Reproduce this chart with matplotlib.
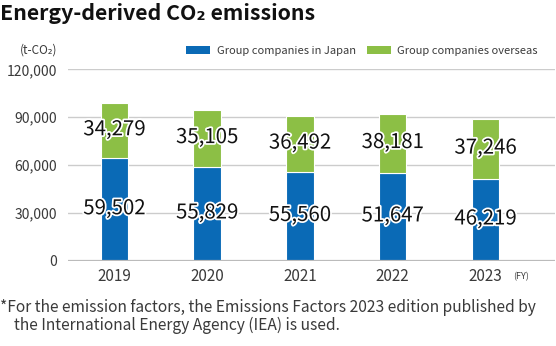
import matplotlib
matplotlib.use("Agg")
import matplotlib.pyplot as plt
import matplotlib.patheffects as pe
from matplotlib.patches import Patch

plt.rcParams['font.family'] = ['Noto Sans CJK JP', 'DejaVu Sans']

years = ['2019', '2020', '2021', '2022', '2023']
# bar heights as drawn in the reference (t-CO2)
japan_bar = [64200, 58900, 55800, 55200, 51400]
overseas_bar = [34700, 35500, 34800, 36700, 37300]
# printed values
japan_label = [59502, 55829, 55560, 51647, 46219]
overseas_label = [34279, 35105, 36492, 38181, 37246]
yticks = [0, 30000, 60000, 90000, 120000]

blue = '#0A6AB6'
green = '#8CBF45'
txt_gray = '#3a3a3a'

W, H = 556, 346
fig = plt.figure(figsize=(W / 100, H / 100), dpi=100)
ax = fig.add_axes([68 / W, 1 - 261 / H, (555 - 68) / W, (261 - 69.3) / H])

x = list(range(len(years)))
ax.bar(x, japan_bar, width=0.297, color=blue, edgecolor='white', linewidth=0.8, zorder=3)
ax.bar(x, overseas_bar, width=0.297, bottom=japan_bar, color=green, edgecolor='white', linewidth=0.8, zorder=3)

stroke = [pe.withStroke(linewidth=2.5, foreground='white')]
for i in x:
    ax.text(i, japan_bar[i] / 2 + 600, f"{japan_label[i]:,}", ha='center', va='center',
            fontsize=14.7, color='#111111', zorder=5, path_effects=stroke)
    ax.text(i, japan_bar[i] + overseas_bar[i] / 2 + 600, f"{overseas_label[i]:,}", ha='center',
            va='center', fontsize=14.7, color='#111111', zorder=5, path_effects=stroke)

ax.set_xlim(-0.5, 4.75)
ax.set_ylim(0, 120000)
ax.set_yticks(yticks)
ax.set_yticklabels([f"{v:,}" for v in yticks], fontsize=10, color=txt_gray)
ax.set_xticks(x)
ax.set_xticklabels(years, fontsize=11, color=txt_gray)
ax.tick_params(axis='y', length=0, pad=7.7)
ax.tick_params(axis='x', length=0, pad=5)
for s in ax.spines.values():
    s.set_visible(False)
ax.grid(axis='y', color='#cccccc', linewidth=1, zorder=0)
ax.set_axisbelow(True)
ax.axhline(0, color='#bbbbbb', linewidth=1.6, zorder=4)

# unit labels
fig.text(57 / W, 1 - 50 / H, '(t-CO₂)', ha='right', va='center', fontsize=8.5, color=txt_gray)
fig.text(513 / W, 1 - 277 / H, '(FY)', ha='left', va='center', fontsize=6.5, color=txt_gray)

# legend
handles = [Patch(facecolor=blue, label='Group companies in Japan'),
           Patch(facecolor=green, label='Group companies overseas')]
fig.legend(handles=handles, loc='center left', bbox_to_anchor=(186 / W, 1 - 51 / H),
           ncol=2, frameon=False, fontsize=8.0, labelcolor=txt_gray,
           handlelength=2.2, handleheight=0.7, handletextpad=0.55,
           columnspacing=1.0, borderpad=0, borderaxespad=0)

# title
fig.text(0, 1 - 19.5 / H, 'Energy-derived CO₂ emissions', ha='left', va='baseline',
         fontsize=15.35, fontweight='bold', color='#111111')

# footnote
fig.text(0, 1 - 311.7 / H, '*For the emission factors, the Emissions Factors 2023 edition published by',
         ha='left', va='baseline', fontsize=11.24, color=txt_gray)
fig.text(14 / W, 1 - 330 / H, 'the International Energy Agency (IEA) is used.',
         ha='left', va='baseline', fontsize=11.24, color=txt_gray)

fig.savefig('out.png', dpi=100)
